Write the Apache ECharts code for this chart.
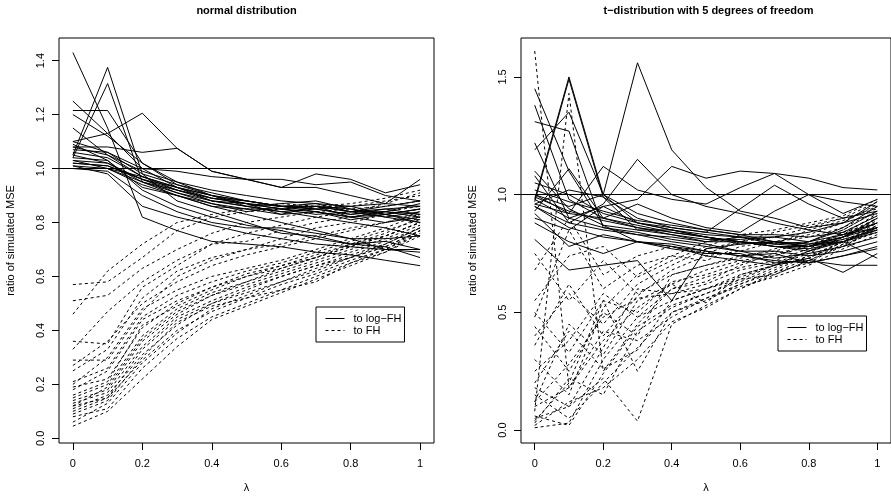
<!DOCTYPE html>
<html><head><meta charset="utf-8">
<script src="https://cdn.jsdelivr.net/npm/echarts@6/dist/echarts.min.js"></script>
<style>html,body{margin:0;padding:0;background:#fff}#c{width:891px;height:498px}</style>
</head><body><div id="c"></div><script>
const lambda = [0, 0.1, 0.2, 0.3, 0.4, 0.5, 0.6, 0.7, 0.8, 0.9, 1];
const xTicks = [0, 0.2, 0.4, 0.6, 0.8, 1];
const yTicksNormal = [0, 0.2, 0.4, 0.6, 0.8, 1.0, 1.2, 1.4];
const yTicksT = [0, 0.5, 1.0, 1.5];
const refLine = 1;
const titles = ['normal distribution', 't\u2212distribution with 5 degrees of freedom'];
const legendNames = ['to log\u2212FH', 'to FH'];
const yName = 'ratio of simulated MSE';
const xName = '\u03bb';

// normal distribution, ratio to log-FH (solid)
const normalLogFH = [
[1.43, 1.15, 0.82, 0.77, 0.73, 0.72, 0.71, 0.69, 0.68, 0.66, 0.64],
[1.05, 1.375, 0.98, 0.88, 0.84, 0.80, 0.76, 0.75, 0.72, 0.71, 0.67],
[1.04, 1.315, 0.95, 0.90, 0.86, 0.83, 0.80, 0.77, 0.74, 0.70, 0.70],
[1.215, 1.215, 1.02, 0.94, 0.90, 0.87, 0.85, 0.84, 0.82, 0.80, 0.82],
[1.25, 1.13, 1.00, 0.93, 0.88, 0.86, 0.84, 0.82, 0.80, 0.78, 0.75],
[1.20, 1.12, 1.02, 0.95, 0.90, 0.88, 0.86, 0.86, 0.84, 0.85, 0.83],
[1.10, 1.13, 1.205, 1.075, 0.99, 0.96, 0.93, 0.93, 0.90, 0.87, 0.86],
[1.08, 1.08, 1.06, 1.075, 0.99, 0.96, 0.93, 0.98, 0.96, 0.91, 0.94],
[1.10, 1.06, 1.00, 0.99, 0.97, 0.96, 0.96, 0.94, 0.95, 0.90, 0.88],
[1.00, 1.00, 0.95, 0.92, 0.89, 0.87, 0.86, 0.85, 0.83, 0.84, 0.82],
[1.02, 1.01, 0.96, 0.93, 0.90, 0.88, 0.86, 0.86, 0.84, 0.84, 0.83],
[1.01, 1.00, 0.97, 0.92, 0.88, 0.87, 0.85, 0.86, 0.82, 0.83, 0.85],
[1.03, 1.02, 0.95, 0.91, 0.88, 0.86, 0.84, 0.85, 0.83, 0.85, 0.86],
[1.06, 1.04, 0.97, 0.93, 0.89, 0.87, 0.83, 0.86, 0.85, 0.83, 0.81],
[1.07, 1.06, 0.98, 0.94, 0.91, 0.88, 0.86, 0.87, 0.84, 0.82, 0.84],
[1.04, 1.03, 0.93, 0.90, 0.86, 0.85, 0.83, 0.84, 0.82, 0.84, 0.87],
[1.00, 0.99, 0.90, 0.84, 0.80, 0.78, 0.78, 0.76, 0.74, 0.74, 0.75],
[1.09, 1.03, 0.92, 0.86, 0.82, 0.79, 0.77, 0.74, 0.72, 0.73, 0.70],
[1.01, 0.98, 0.86, 0.82, 0.79, 0.76, 0.74, 0.72, 0.71, 0.70, 0.69],
[1.02, 1.01, 0.96, 0.92, 0.89, 0.88, 0.86, 0.85, 0.86, 0.87, 0.96],
[1.15, 1.05, 0.97, 0.93, 0.90, 0.86, 0.87, 0.88, 0.85, 0.82, 0.80],
[1.05, 1.02, 0.96, 0.91, 0.87, 0.85, 0.85, 0.83, 0.84, 0.86, 0.88],
[1.03, 1.00, 0.94, 0.90, 0.87, 0.84, 0.86, 0.84, 0.81, 0.83, 0.80],
[1.08, 1.05, 0.99, 0.95, 0.92, 0.90, 0.88, 0.87, 0.86, 0.83, 0.85]
];

// normal distribution, ratio to FH (dashed)
const normalFH = [
[0.57, 0.58, 0.67, 0.77, 0.82, 0.84, 0.85, 0.86, 0.86, 0.88, 0.90],
[0.46, 0.62, 0.72, 0.80, 0.83, 0.85, 0.87, 0.86, 0.87, 0.89, 0.92],
[0.51, 0.53, 0.63, 0.70, 0.76, 0.80, 0.82, 0.84, 0.85, 0.86, 0.88],
[0.36, 0.35, 0.56, 0.64, 0.72, 0.76, 0.79, 0.82, 0.84, 0.87, 0.91],
[0.33, 0.47, 0.58, 0.66, 0.72, 0.73, 0.77, 0.80, 0.82, 0.84, 0.86],
[0.29, 0.29, 0.47, 0.60, 0.66, 0.70, 0.74, 0.78, 0.80, 0.83, 0.85],
[0.25, 0.33, 0.52, 0.62, 0.67, 0.70, 0.72, 0.75, 0.78, 0.80, 0.83],
[0.21, 0.26, 0.45, 0.53, 0.58, 0.62, 0.65, 0.69, 0.73, 0.77, 0.81],
[0.19, 0.22, 0.41, 0.50, 0.56, 0.60, 0.64, 0.67, 0.71, 0.75, 0.80],
[0.15, 0.20, 0.38, 0.48, 0.54, 0.58, 0.62, 0.66, 0.70, 0.74, 0.79],
[0.14, 0.18, 0.36, 0.46, 0.53, 0.57, 0.61, 0.65, 0.69, 0.73, 0.78],
[0.13, 0.17, 0.34, 0.45, 0.51, 0.56, 0.60, 0.64, 0.68, 0.72, 0.78],
[0.12, 0.19, 0.37, 0.47, 0.53, 0.58, 0.63, 0.67, 0.71, 0.75, 0.80],
[0.11, 0.16, 0.31, 0.42, 0.50, 0.55, 0.60, 0.64, 0.67, 0.71, 0.77],
[0.10, 0.15, 0.29, 0.40, 0.47, 0.52, 0.57, 0.61, 0.66, 0.70, 0.76],
[0.08, 0.11, 0.26, 0.37, 0.45, 0.50, 0.55, 0.60, 0.65, 0.69, 0.75],
[0.06, 0.13, 0.28, 0.39, 0.48, 0.53, 0.58, 0.62, 0.67, 0.71, 0.77],
[0.045, 0.10, 0.22, 0.34, 0.44, 0.49, 0.54, 0.59, 0.64, 0.69, 0.76],
[0.16, 0.21, 0.42, 0.49, 0.55, 0.60, 0.63, 0.67, 0.72, 0.76, 0.82],
[0.12, 0.15, 0.33, 0.44, 0.50, 0.54, 0.58, 0.63, 0.67, 0.72, 0.78],
[0.18, 0.25, 0.44, 0.51, 0.56, 0.61, 0.64, 0.68, 0.72, 0.75, 0.80],
[0.09, 0.14, 0.30, 0.43, 0.49, 0.52, 0.55, 0.58, 0.65, 0.70, 0.77],
[0.20, 0.30, 0.48, 0.55, 0.60, 0.63, 0.66, 0.70, 0.74, 0.78, 0.83],
[0.27, 0.36, 0.50, 0.58, 0.64, 0.68, 0.71, 0.74, 0.77, 0.80, 0.84]
];

// t-distribution, ratio to log-FH (solid)
const tLogFH = [
[0.98, 1.50, 1.00, 0.88, 0.85, 0.82, 0.80, 0.78, 0.77, 0.80, 0.85],
[0.97, 1.49, 0.99, 0.85, 0.83, 0.80, 0.82, 0.79, 0.80, 0.83, 0.88],
[1.00, 0.95, 1.00, 1.56, 1.19, 1.03, 0.93, 0.90, 0.86, 0.88, 0.92],
[0.95, 0.88, 0.96, 1.15, 1.00, 0.95, 0.92, 0.88, 0.85, 0.83, 0.86],
[0.90, 0.85, 0.95, 0.98, 1.12, 1.07, 1.10, 1.09, 1.07, 1.03, 1.02],
[1.19, 1.35, 1.00, 0.92, 0.88, 0.85, 0.83, 0.80, 0.78, 0.80, 0.84],
[1.31, 1.27, 0.86, 0.84, 0.81, 0.79, 0.76, 0.73, 0.75, 0.78, 0.82],
[1.45, 1.10, 0.87, 0.80, 0.79, 0.76, 0.74, 0.72, 0.71, 0.74, 0.77],
[1.38, 0.98, 0.90, 0.86, 0.84, 0.82, 0.80, 0.78, 0.78, 0.82, 0.86],
[0.96, 0.92, 1.12, 1.02, 0.98, 0.96, 1.03, 1.09, 1.00, 0.97, 0.95],
[1.05, 1.00, 0.92, 0.88, 0.86, 0.84, 0.94, 1.04, 0.96, 0.90, 0.93],
[0.93, 1.11, 0.90, 0.96, 0.90, 0.86, 0.84, 0.93, 1.00, 0.92, 0.98],
[1.00, 0.92, 0.90, 0.87, 0.84, 0.82, 0.80, 0.79, 0.78, 0.81, 0.85],
[0.98, 0.90, 0.86, 0.83, 0.82, 0.80, 0.80, 0.78, 0.76, 0.80, 0.86],
[1.10, 0.94, 0.87, 0.85, 0.85, 0.82, 0.79, 0.80, 0.79, 0.82, 0.90],
[0.81, 0.68, 0.70, 0.72, 0.55, 0.77, 0.79, 0.80, 0.78, 0.82, 0.88],
[0.88, 0.80, 0.75, 0.80, 0.78, 0.74, 0.72, 0.70, 0.73, 0.67, 0.75],
[0.95, 0.86, 0.82, 0.80, 0.78, 0.76, 0.74, 0.75, 0.71, 0.74, 0.78],
[1.02, 0.97, 0.93, 0.89, 0.87, 0.85, 0.83, 0.83, 0.82, 0.84, 0.91],
[0.99, 0.93, 0.89, 0.86, 0.83, 0.81, 0.81, 0.82, 0.80, 0.86, 0.95],
[1.08, 0.88, 0.85, 0.83, 0.80, 0.78, 0.76, 0.76, 0.74, 0.76, 0.80],
[0.96, 1.02, 0.99, 0.90, 0.86, 0.84, 0.82, 0.82, 0.84, 0.88, 0.97],
[1.22, 0.90, 0.95, 0.88, 0.85, 0.83, 0.82, 0.80, 0.79, 0.80, 0.73],
[0.92, 0.78, 0.83, 0.80, 0.77, 0.75, 0.75, 0.71, 0.72, 0.70, 0.70]
];

// t-distribution, ratio to FH (dashed)
const tFH = [
[1.61, 0.18, 0.38, 0.52, 0.62, 0.68, 0.72, 0.74, 0.79, 0.83, 0.90],
[0.08, 1.43, 0.25, 0.45, 0.60, 0.63, 0.70, 0.75, 0.78, 0.84, 0.88],
[0.01, 0.03, 0.30, 0.48, 0.55, 0.60, 0.66, 0.70, 0.75, 0.82, 0.90],
[0.05, 0.10, 0.22, 0.038, 0.45, 0.53, 0.60, 0.67, 0.73, 0.80, 0.88],
[0.75, 0.55, 0.72, 0.58, 0.66, 0.70, 0.74, 0.76, 0.80, 0.85, 0.93],
[0.48, 0.85, 0.60, 0.70, 0.74, 0.72, 0.78, 0.80, 0.83, 0.88, 0.96],
[0.40, 0.58, 0.45, 0.62, 0.70, 0.77, 0.80, 0.82, 0.86, 0.90, 0.94],
[0.30, 0.15, 0.52, 0.66, 0.74, 0.80, 0.82, 0.79, 0.85, 0.89, 0.95],
[0.20, 0.42, 0.26, 0.34, 0.55, 0.60, 0.65, 0.70, 0.73, 0.80, 0.86],
[0.12, 0.28, 0.48, 0.56, 0.58, 0.62, 0.68, 0.71, 0.76, 0.82, 0.89],
[0.15, 0.05, 0.20, 0.35, 0.50, 0.55, 0.62, 0.68, 0.74, 0.80, 0.87],
[0.03, 0.22, 0.15, 0.42, 0.52, 0.58, 0.63, 0.69, 0.74, 0.78, 0.85],
[0.50, 0.33, 0.55, 0.50, 0.63, 0.66, 0.71, 0.74, 0.78, 0.83, 0.92],
[0.36, 0.62, 0.40, 0.57, 0.68, 0.74, 0.76, 0.80, 0.82, 0.86, 0.93],
[0.10, 0.18, 0.42, 0.38, 0.48, 0.56, 0.62, 0.67, 0.71, 0.79, 0.87],
[0.06, 0.02, 0.24, 0.44, 0.53, 0.58, 0.64, 0.70, 0.76, 0.81, 0.90],
[0.68, 0.90, 0.66, 0.74, 0.78, 0.75, 0.80, 0.84, 0.87, 0.90, 0.97],
[0.25, 0.38, 0.58, 0.48, 0.60, 0.65, 0.69, 0.72, 0.77, 0.84, 0.91],
[0.18, 0.10, 0.35, 0.60, 0.58, 0.60, 0.64, 0.66, 0.72, 0.78, 0.86],
[0.44, 0.25, 0.50, 0.40, 0.66, 0.70, 0.73, 0.77, 0.80, 0.85, 0.93],
[0.02, 0.12, 0.18, 0.30, 0.46, 0.52, 0.60, 0.66, 0.72, 0.79, 0.84],
[0.55, 0.74, 0.78, 0.65, 0.72, 0.78, 0.83, 0.85, 0.88, 0.91, 0.98],
[0.12, 0.45, 0.32, 0.55, 0.62, 0.54, 0.66, 0.70, 0.76, 0.82, 0.88],
[0.04, 0.20, 0.55, 0.25, 0.50, 0.56, 0.61, 0.65, 0.70, 0.77, 0.83]
];

const FONT = '"Liberation Sans", Arial, Helvetica, sans-serif';
const chart = echarts.init(document.getElementById('c'), null, {renderer: 'canvas'});

function fmt(v) { return String(+Number(v).toFixed(1)); }

function xAxis(gi) {
  return {
    type: 'value', gridIndex: gi, min: -0.04, max: 1.04,
    axisLine: {show: false, onZero: false}, splitLine: {show: false},
    axisTick: {show: true, customValues: xTicks, length: 7, lineStyle: {color: '#000', width: 1}},
    axisLabel: {customValues: xTicks, margin: 15, color: '#000', fontSize: 11, fontFamily: FONT, formatter: fmt},
    name: xName, nameLocation: 'middle', nameGap: 39,
    nameTextStyle: {color: '#000', fontSize: 11, fontFamily: FONT}
  };
}
function yAxis(gi, min, max, ticks) {
  return {
    type: 'value', gridIndex: gi, min: min, max: max,
    axisLine: {show: false, onZero: false}, splitLine: {show: false},
    axisTick: {show: true, customValues: ticks, length: 7, lineStyle: {color: '#000', width: 1}},
    axisLabel: {customValues: ticks, rotate: 90, margin: 13, color: '#000', fontSize: 11, fontFamily: FONT,
      formatter: v => Number(v).toFixed(1)},
    name: yName, nameLocation: 'middle', nameGap: 43, nameRotate: 90,
    nameTextStyle: {color: '#000', fontSize: 11, fontFamily: FONT}
  };
}

const series = [];
function addLines(groups, gi, name, dashed) {
  groups.forEach(vals => {
    series.push({
      type: 'line', name: name, xAxisIndex: gi, yAxisIndex: gi,
      data: lambda.map((x, i) => [x, vals[i]]),
      symbol: 'none', silent: true, animation: false, color: '#000',
      lineStyle: {color: '#000', width: 1, type: dashed ? [3, 3] : 'solid'}
    });
  });
}
addLines(normalLogFH, 0, legendNames[0], false);
addLines(normalFH, 0, legendNames[1], true);
addLines(tLogFH, 1, legendNames[0], false);
addLines(tFH, 1, legendNames[1], true);

function refMark() {
  return {silent: true, symbol: 'none', animation: false, label: {show: false},
    lineStyle: {color: '#000', width: 1.2, type: 'solid'}, data: [{yAxis: refLine}]};
}
series[0].markLine = refMark();
series[normalLogFH.length + normalFH.length].markLine = refMark();

function legend(left, top) {
  return {
    orient: 'vertical', left: left, top: top, padding: [6, 3, 6, 9], itemGap: 1,
    itemWidth: 19, itemHeight: 12, borderColor: '#000', borderWidth: 1, borderRadius: 0,
    backgroundColor: '#fff', selectedMode: false,
    itemStyle: {color: 'rgba(0,0,0,0)', borderColor: 'rgba(0,0,0,0)', borderWidth: 0, opacity: 0},
    lineStyle: {color: '#000', width: 1},
    data: legendNames.map(n => ({name: n})),
    textStyle: {fontSize: 11, fontFamily: FONT, color: '#000', padding: [0, 0, 0, 4]}
  };
}

chart.setOption({
  animation: false,
  backgroundColor: '#fff',
  title: [
    {text: titles[0], left: 246.5, top: 5, textAlign: 'center', padding: 0,
     textStyle: {fontSize: 11, fontWeight: 'bold', fontFamily: FONT, color: '#000'}},
    {text: titles[1], left: 708.5, top: 5, textAlign: 'center', padding: 0,
     textStyle: {fontSize: 11, fontWeight: 'bold', fontFamily: FONT, color: '#000'}}
  ],
  legend: [legend(316, 307), legend(778, 316)],
  grid: [
    {left: 59, top: 38, width: 375, height: 409, show: true, borderColor: '#000', borderWidth: 1, backgroundColor: 'transparent', containLabel: false},
    {left: 521, top: 38, width: 375, height: 409, show: true, borderColor: '#000', borderWidth: 1, backgroundColor: 'transparent', containLabel: false}
  ],
  xAxis: [xAxis(0), xAxis(1)],
  yAxis: [yAxis(0, -0.0172, 1.4838, yTicksNormal), yAxis(1, -0.0547, 1.6653, yTicksT)],
  series: series
});
</script></body></html>
